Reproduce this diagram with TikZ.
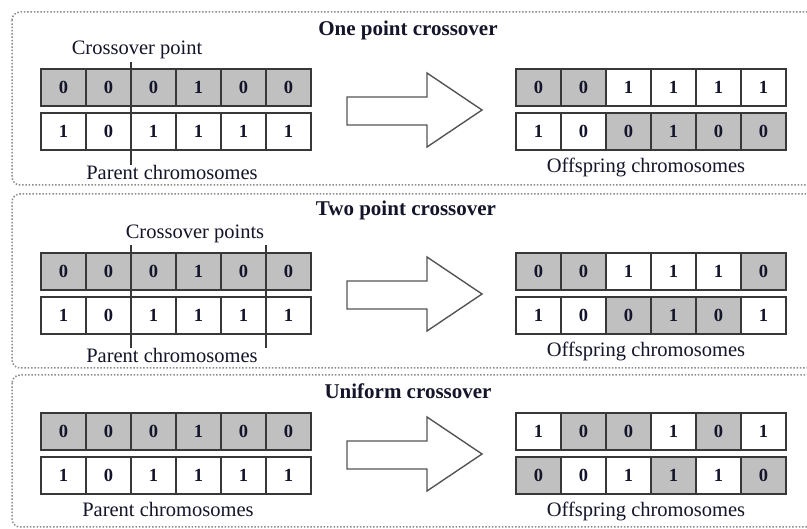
\documentclass[tikz,border=0pt]{standalone}
\usepackage{fontspec}
\setmainfont{Liberation Serif}
\definecolor{cellgray}{HTML}{C0C0C0}
\definecolor{cellborder}{HTML}{383838}
\definecolor{panelgray}{HTML}{8C8C8C}
\definecolor{arrowgray}{HTML}{555555}
\definecolor{inkc}{HTML}{14142A}
\tikzset{
  cellg/.style={draw=cellborder, fill=cellgray, line width=1.6pt, minimum width=45pt,
    minimum height=37pt, inner sep=0pt, outer sep=0pt, text=inkc,
    font=\fontsize{18.5}{18.5}\selectfont\bfseries},
  cellw/.style={cellg, fill=white},
  lbl/.style={font=\fontsize{20.5}{21}\selectfont, inner sep=0pt, anchor=base, text=inkc},
  ttl/.style={font=\fontsize{21}{22}\selectfont\bfseries, inner sep=0pt, anchor=base, text=inkc},
  panel/.style={draw=panelgray, line width=1.5pt, dash pattern=on 1.5pt off 1.8pt, rounded corners=8pt},
  bigarrow/.style={draw=arrowgray, line width=1.4pt, fill=white, line join=miter},
  xline/.style={draw=cellborder, line width=1.6pt},
}
\newcommand\chromrow[4]{%
  \foreach \d/\f [count=\i] in {#4} {
    \node[cell\f] (#1\i) at ({#2+22.5+45*(\i-1)}, {#3+18.5}) {\d};
  }%
}
\newcommand\bigarr[1]{%
  \draw[bigarrow] (347,#1+28) -- (427,#1+28) -- (427,#1+4) -- (482,#1+41)
    -- (427,#1+78) -- (427,#1+56) -- (347,#1+56) -- cycle;
}
\begin{document}
\begin{tikzpicture}[x=1pt,y=-1pt]
\useasboundingbox (0,0) rectangle (807,529);
\clip (0,0) rectangle (807,529);
\fill[white] (0,0) rectangle (807,529);

% ---------------- panel 1 : one point ----------------
\draw[panel] (12,12) rectangle (840,185);
\node[ttl] (t1) at (408,36) {One point crossover};
\node[lbl] (cp1) at (137,55) {Crossover point};
\chromrow{pa}{41}{69}{0/g,0/g,0/g,1/g,0/g,0/g}
\chromrow{pb}{41}{113}{1/w,0/w,1/w,1/w,1/w,1/w}
\node[lbl] (pc1) at (172,180) {Parent chromosomes};
\coordinate (x1a) at (131,62);
\coordinate (x1b) at (131,165);
\draw[xline] (x1a) -- (x1b);
\bigarr{69}
\chromrow{oa}{516}{69}{0/g,0/g,1/w,1/w,1/w,1/w}
\chromrow{ob}{516}{113}{1/w,0/w,0/g,1/g,0/g,0/g}
\node[lbl] (oc1) at (646,173) {Offspring chromosomes};

% ---------------- panel 2 : two point ----------------
\draw[panel] (12,194) rectangle (840,368);
\node[ttl] (t2) at (406,216) {Two point crossover};
\node[lbl] (cp2) at (195,239) {Crossover points};
\chromrow{qa}{41}{253}{0/g,0/g,0/g,1/g,0/g,0/g}
\chromrow{qb}{41}{297}{1/w,0/w,1/w,1/w,1/w,1/w}
\node[lbl] (pc2) at (172,363) {Parent chromosomes};
\coordinate (x2a) at (131,245);
\coordinate (x2b) at (131,348);
\coordinate (x3a) at (266,245);
\coordinate (x3b) at (266,348);
\draw[xline] (x2a) -- (x2b);
\draw[xline] (x3a) -- (x3b);
\bigarr{253}
\chromrow{ra}{516}{253}{0/g,0/g,1/w,1/w,1/w,0/g}
\chromrow{rb}{516}{297}{1/w,0/w,0/g,1/g,0/g,1/w}
\node[lbl] (oc2) at (646,357) {Offspring chromosomes};

% ---------------- panel 3 : uniform ----------------
\draw[panel] (12,375) rectangle (840,527);
\node[ttl] (t3) at (408,399) {Uniform crossover};
\chromrow{sa}{41}{413}{0/g,0/g,0/g,1/g,0/g,0/g}
\chromrow{sb}{41}{457}{1/w,0/w,1/w,1/w,1/w,1/w}
\node[lbl] (pc3) at (168,517) {Parent chromosomes};
\bigarr{413}
\chromrow{ua}{516}{413}{1/w,0/g,0/g,1/w,0/g,1/w}
\chromrow{ub}{516}{457}{0/g,0/w,1/w,1/g,1/w,0/g}
\node[lbl] (oc3) at (646,517) {Offspring chromosomes};
\end{tikzpicture}
\end{document}
